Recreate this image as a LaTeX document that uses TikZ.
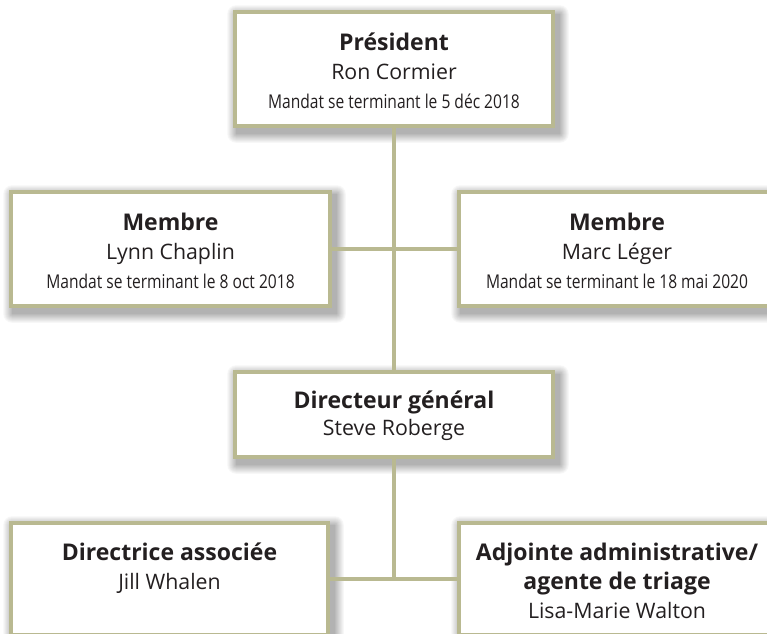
\documentclass[tikz,border=0pt]{standalone}
\usepackage{fontspec}
\setmainfont{Open Sans}
\newfontfamily\condfont{Open Sans}[FakeStretch=0.82]
\definecolor{linecol}{RGB}{185,185,145}
\definecolor{txtcol}{RGB}{35,31,32}
\pgfdeclarelayer{bglayer}
\pgfdeclarelayer{shadowlayer}
\pgfdeclarelayer{linklayer}
\pgfsetlayers{bglayer,shadowlayer,linklayer,main}
\tikzset{
  orgbox/.style={draw=linecol, line width=3.5pt, fill=white, text=txtcol,
    align=center, inner sep=0pt, font=\fontsize{21.3}{29}\selectfont},
  link/.style={draw=linecol, line width=4pt},
}
\newcommand{\roletitle}[1]{{\fontsize{23}{29}\selectfont\bfseries\rule{0pt}{21pt}#1}}
\newcommand{\mandat}[1]{{\condfont\fontsize{19}{29}\selectfont #1}}
\begin{document}
\begin{tikzpicture}[x=1pt,y=-1pt]
\useasboundingbox (0,0) rectangle (767,633);
\begin{pgfonlayer}{bglayer}
  \fill[white] (0,0) rectangle (767,633);
\end{pgfonlayer}
% boxes
\node[orgbox, minimum width=318pt, minimum height=114pt] (pres) at (394,69)
  {\roletitle{Président}\\Ron Cormier\\\mandat{Mandat se terminant le 5 déc 2018}};
\node[orgbox, minimum width=319pt, minimum height=114pt] (lynn) at (170.5,249)
  {\roletitle{Membre}\\Lynn Chaplin\\\mandat{Mandat se terminant le 8 oct 2018}};
\node[orgbox, minimum width=316pt, minimum height=114pt] (marc) at (617,249)
  {\roletitle{Membre}\\Marc Léger\\\mandat{Mandat se terminant le 18 mai 2020}};
\node[orgbox, minimum width=318pt, minimum height=85pt, font=\fontsize{21.3}{27}\selectfont] (dg) at (394,414.5)
  {{\fontsize{23}{27}\selectfont\bfseries\rule{0pt}{21pt}Directeur général}\\Steve Roberge};
\node[orgbox, minimum width=317pt, minimum height=112pt] (jill) at (169.5,579)
  {\roletitle{Directrice associée}\\Jill Whalen\\\phantom{Lisa}};
\node[orgbox, minimum width=316pt, minimum height=112pt] (lisa) at (617,579)
  {\roletitle{Adjointe administrative/}\\{\fontsize{23}{29}\selectfont\bfseries agente de triage}\\Lisa-Marie Walton};
% soft shadows (graded solid greys, outer lightest)
\begin{pgfonlayer}{shadowlayer}
  \foreach \b in {pres,lynn,marc,dg,jill,lisa}{
    \foreach \r/\g in {9/3,8/6,7/9,6/12,5/15,4/18,3/21,2/24,1/27,0/30}{
      \fill[black!\g, rounded corners=\r pt]
        ([xshift=3pt-\r pt, yshift=-4pt+\r pt]\b.north west)
        rectangle ([xshift=5pt+\r pt, yshift=-6pt-\r pt]\b.south east);
    }
  }
\end{pgfonlayer}
% connectors
\begin{pgfonlayer}{linklayer}
  \coordinate (j1) at (dg.south |- jill.east);
  \path[link] (pres.south) -- (dg.north);
  \path[link] (lynn.east) -- (marc.west);
  \path[link] (dg.south) -- (j1);
  \path[link] (jill.east) -- (lisa.west);
\end{pgfonlayer}
\end{tikzpicture}
\end{document}
